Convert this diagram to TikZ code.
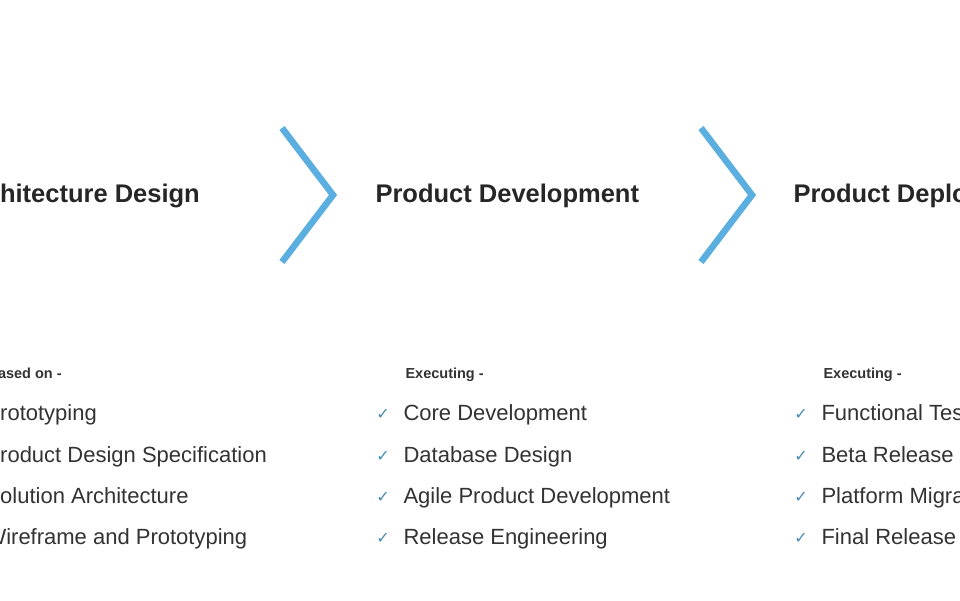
\documentclass[tikz,border=0pt]{standalone}
\usepackage{fontspec}
\setmainfont{Liberation Sans}
\newfontfamily\symfont{DejaVu Sans}
\begin{document}
\begin{tikzpicture}[x=1pt,y=-1pt,
  title/.style={anchor=base west,font=\fontsize{25.5}{28}\selectfont\bfseries,text=black!85},
  sub/.style={anchor=base west,font=\fontsize{14.5}{16}\selectfont\bfseries,text=black!80},
  item/.style={anchor=base west,font=\fontsize{22}{25}\selectfont,text=black!80},
  tick/.style={anchor=base,font=\symfont\fontsize{16}{18}\selectfont,text=chev!80!black},
  chevline/.style={draw=chev,line width=6.5pt,line join=miter}]
\definecolor{chev}{HTML}{5AAEE0}
\useasboundingbox (0,0) rectangle (960,600);
\clip (0,0) rectangle (960,600);
\fill[white] (0,0) rectangle (960,600);
\coordinate (c1a) at (282,128); \coordinate (c1b) at (333,195); \coordinate (c1c) at (282,262);
\coordinate (c2a) at (701,128); \coordinate (c2b) at (752,195); \coordinate (c2c) at (701,262);
\draw[chevline] (c1a) -- (c1b) -- (c1c);
\draw[chevline] (c2a) -- (c2b) -- (c2c);
\foreach \dx/\n/\t/\s/\a/\b/\c/\d in {
  -418/A/Architecture Design/Based on -/Prototyping/Product Design Specification/Solution Architecture/Wireframe and Prototyping,
  0/B/Product Development/Executing -/Core Development/Database Design/Agile Product Development/Release Engineering,
  418/C/Product Deployment/Executing -/Functional Testing/Beta Release/Platform Migration/Final Release}{
  \node[title] (t\n) at (372+\dx,202) {\t};
  \node[sub] (s\n) at (402+\dx,378) {\s};
  \foreach \y/\txt/\k in {413/\a/1,455/\b/2,496/\c/3,537/\d/4}{
    \node[tick] (k\n\k) at (383+\dx,\y+6) {✓};
    \node[item] (i\n\k) at (400+\dx,\y+7) {\txt};
  }
}
\end{tikzpicture}
\end{document}
